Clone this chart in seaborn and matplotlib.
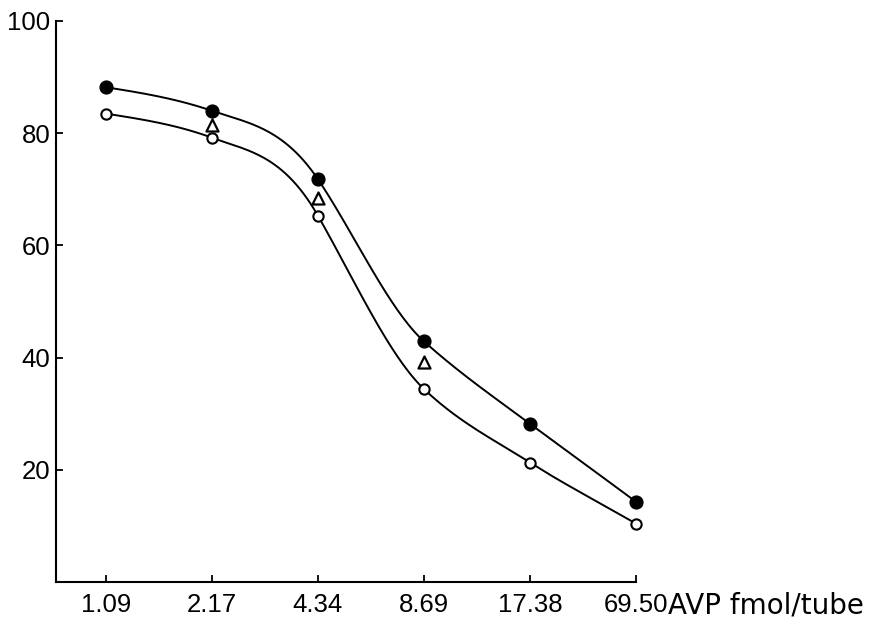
import numpy as np
import seaborn as sns
import matplotlib.pyplot as plt

# AVP dose per tube (categorical, equally spaced on the chart)
doses = ["1.09", "2.17", "4.34", "8.69", "17.38", "69.50"]

# values
filled = [88.2, 84.0, 71.8, 42.9, 28.2, 14.3]
open_ = [83.5, 79.2, 65.3, 34.4, 21.3, 10.4]
tri_idx = [1, 2, 3]
tri_vals = [81.5, 68.5, 39.3]

# slope of the hand-drawn curve at each point (units per dose step)
filled_slope = [-3.0, -6.5, -28.0, -17.0, -14.0, -14.0]
open_slope = [-3.0, -7.0, -33.0, -18.0, -12.0, -11.0]


def hermite(y, m, n=60):
    xs, ys = [], []
    for i in range(len(y) - 1):
        t = np.linspace(0, 1, n)
        h00 = 2 * t**3 - 3 * t**2 + 1
        h10 = t**3 - 2 * t**2 + t
        h01 = -2 * t**3 + 3 * t**2
        h11 = t**3 - t**2
        xs.append(i + t)
        ys.append(h00 * y[i] + h10 * m[i] + h01 * y[i + 1] + h11 * m[i + 1])
    return np.concatenate(xs), np.concatenate(ys)


sns.set_style("ticks")
plt.rcParams['font.family'] = ['Liberation Sans', 'DejaVu Sans']

fig = plt.figure(figsize=(8.91, 6.19), dpi=100)
ax = fig.add_axes([56 / 891, 1 - 582 / 619, (636 - 56) / 891, (582 - 21) / 619])

x = np.arange(len(doses))
fx, fy = hermite(filled, filled_slope)
ox, oy = hermite(open_, open_slope)
sns.lineplot(x=fx, y=fy, sort=False, estimator=None, color="black", linewidth=1.4, ax=ax)
sns.lineplot(x=ox, y=oy, sort=False, estimator=None, color="black", linewidth=1.4, ax=ax)

sns.scatterplot(x=x, y=filled, marker="o", s=85, color="black", edgecolor="black",
                linewidth=1, zorder=5, clip_on=False, ax=ax)
sns.scatterplot(x=x, y=open_, marker="o", s=55, color="white", edgecolor="black",
                linewidth=1.5, zorder=5, clip_on=False, ax=ax)
sns.scatterplot(x=tri_idx, y=tri_vals, marker="^", s=75, color="white", edgecolor="black",
                linewidth=1.6, zorder=5, clip_on=False, ax=ax)

ax.set_xlim(-0.47, 5)
ax.set_ylim(0, 100)
ax.set_xticks(x)
ax.set_xticklabels(doses)
ax.set_yticks([20, 40, 60, 80, 100])
ax.tick_params(axis="both", direction="in", length=5, width=1.3, labelsize=18.5,
               color="black", labelcolor="black")
ax.tick_params(axis="x", pad=8)
ax.tick_params(axis="y", pad=4)
for side in ["top", "right"]:
    ax.spines[side].set_visible(False)
for side in ["left", "bottom"]:
    ax.spines[side].set_linewidth(1.5)
    ax.spines[side].set_color("black")
ax.set_xlabel("")
ax.set_ylabel("")

fig.text(668 / 891, 1 - 606 / 619, "AVP fmol/tube", fontsize=20, va="center", ha="left",
         color="black", family=['DejaVu Sans'])

fig.savefig("out.png", dpi=100, facecolor="white")
